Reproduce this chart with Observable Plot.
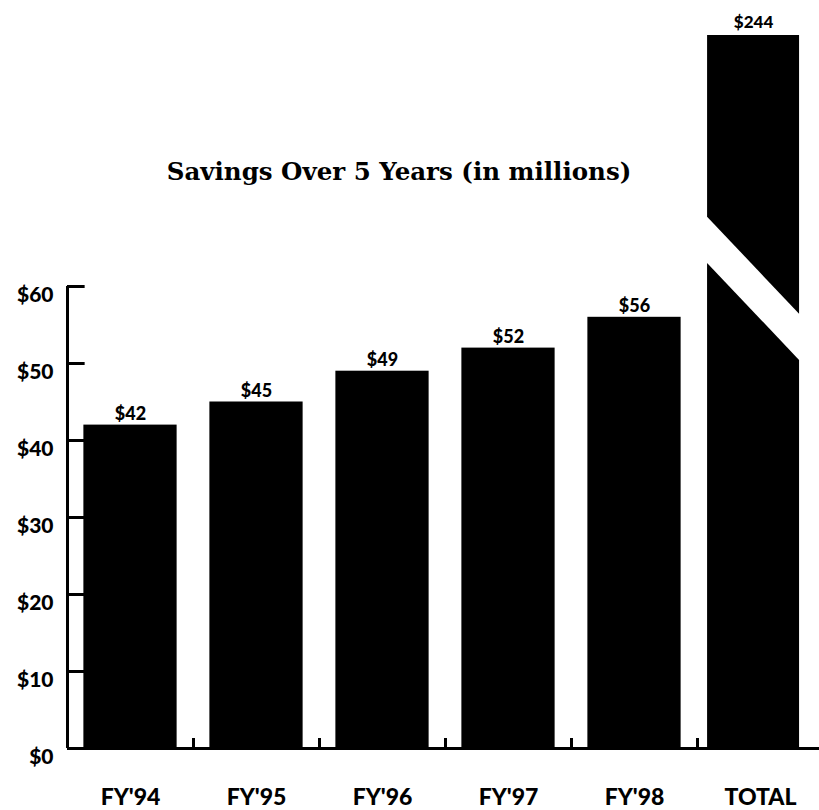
<!DOCTYPE html>
<html>
<head>
<meta charset="utf-8">
<script src="https://cdn.jsdelivr.net/npm/d3@7"></script>
<script src="https://cdn.jsdelivr.net/npm/@observablehq/plot@0.6"></script>
<style>
  html, body { margin: 0; padding: 0; background: #fff; }
  #wrap { position: relative; width: 819px; height: 810px; }
  #title { position: absolute; left: 0; top: 156px; width: 798px; text-align: center;
    font-family: "DejaVu Serif", serif; font-weight: bold; font-size: 24.5px; line-height: 32px; color: #000; margin: 0; }
</style>
</head>
<body>
<div id="wrap">
  <div id="title">Savings Over 5 Years (in millions)</div>
</div>
<script>
// ---- data ----
const categories = ["FY'94", "FY'95", "FY'96", "FY'97", "FY'98", "TOTAL"];
const values = [42, 45, 49, 52, 56, 244];
const yTicks = [0, 10, 20, 30, 40, 50, 60];
const totalDisplayTop = 92.6;          // height on the broken axis the TOTAL bar reaches
const breakLeft = 63, breakRight = 50.4, breakGap = 6; // diagonal break in TOTAL bar

const pad = 0.13;
const yearly = categories.slice(0, 5).map((c, i) => ({cat: c, i, value: values[i]}));
const ti = 5;
const tx1 = ti + 0.08, tx2 = ti + 0.81;
const totalParts = [
  {part: "low", x: tx1, y1: 0, y2: breakLeft},
  {part: "low", x: tx2, y1: 0, y2: breakRight},
  {part: "high", x: tx1, y1: breakLeft + breakGap, y2: totalDisplayTop},
  {part: "high", x: tx2, y1: breakRight + breakGap, y2: totalDisplayTop}
];
const labelFont = "Lato, 'DejaVu Sans', sans-serif";

const chart = Plot.plot({
  width: 819,
  height: 810,
  margin: 0,
  style: {background: "#fff", color: "#000", overflow: "visible"},
  x: {type: "linear", domain: [0, 6], range: [67, 823], axis: null},
  y: {type: "linear", domain: [0, 60], range: [748, 286], axis: null},
  marks: [
    Plot.rectY(yearly, {x1: d => d.i + pad, x2: d => d.i + 1 - pad, y1: 0, y2: "value", fill: "#000"}),
    Plot.areaY(totalParts, {x: "x", y1: "y1", y2: "y2", z: "part", fill: "#000", curve: "linear"}),
    // value labels
    Plot.text(yearly, {x: d => d.i + 0.5, y: "value", text: d => "$" + d.value, lineAnchor: "bottom", dy: -5,
      fontSize: 18, fontWeight: 900, fontFamily: labelFont}),
    Plot.text([values[ti]], {x: (tx1 + tx2) / 2, y: totalDisplayTop, text: d => "$" + d, lineAnchor: "bottom", dy: -7,
      fontSize: 17, fontWeight: 900, fontFamily: labelFont}),
    // y axis
    Plot.ruleX([0], {y1: 0, y2: 60, strokeWidth: 3}),
    Plot.ruleY(yTicks.filter(d => d > 0), {x1: 0, x2: pad + 0.01, y: d => d, strokeWidth: 3}),
    Plot.text(yTicks, {x: 0, y: d => d, text: d => "$" + d, textAnchor: "end", dx: -14, dy: 9,
      fontSize: 21, fontWeight: 900, fontFamily: labelFont}),
    // x axis
    Plot.ruleY([0], {x1: 0, x2: 5.98, strokeWidth: 3}),
    Plot.ruleX([1, 2, 3, 4, 5], {y1: 0, y2: 1.3, strokeWidth: 3}),
    Plot.text(categories, {x: (d, i) => i + 0.5, y: 0, text: d => d, dy: 49,
      fontSize: 23, fontWeight: 900, fontFamily: labelFont})
  ]
});
document.getElementById("wrap").prepend(chart);
</script>
</body>
</html>
